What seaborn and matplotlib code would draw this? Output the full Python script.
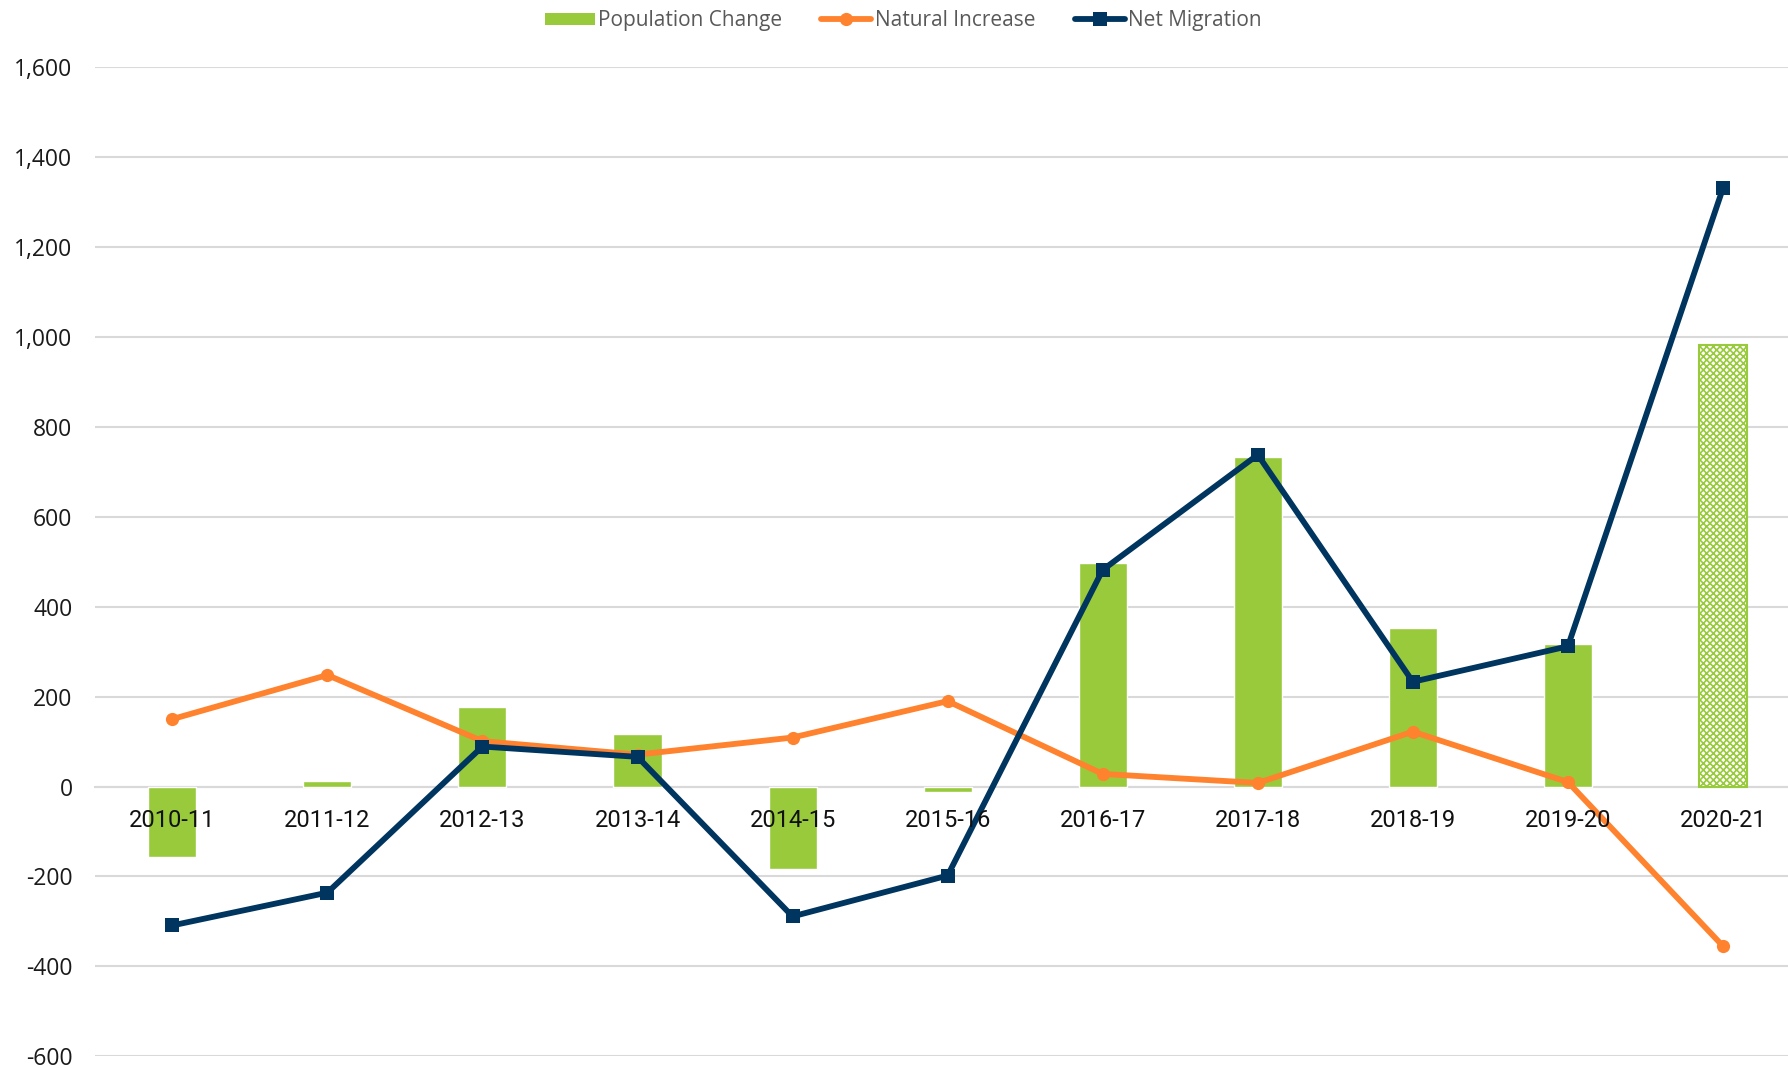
import matplotlib
matplotlib.use("Agg")
import matplotlib.pyplot as plt
import seaborn as sns
import numpy as np
import pandas as pd
from matplotlib.lines import Line2D
from matplotlib.patches import Patch

years = ["2010-11", "2011-12", "2012-13", "2013-14", "2014-15", "2015-16",
         "2016-17", "2017-18", "2018-19", "2019-20", "2020-21"]
population_change = [-157, 12, 177, 117, -183, -12, 497, 733, 352, 317, 983]
natural_increase = [150, 248, 101, 71, 109, 190, 28, 8, 122, 10, -355]
net_migration = [-309, -236, 89, 66, -289, -198, 482, 738, 233, 312, 1331]
y_ticks = [-600, -400, -200, 0, 200, 400, 600, 800, 1000, 1200, 1400, 1600]

GREEN = "#99CA3C"
ORANGE = "#FF822E"
NAVY = "#00355F"

sns.set_style("white")
plt.rcParams["hatch.linewidth"] = 1.2

fig = plt.figure(figsize=(17.88, 10.68), dpi=100)
ax = fig.add_axes([0.053, 0.011, 0.954, 0.926])

df = pd.DataFrame({"year": years, "pop": population_change,
                   "ni": natural_increase, "nm": net_migration,
                   "idx": np.arange(len(years))})

sns.barplot(data=df, x="year", y="pop", color=GREEN, width=0.31,
            saturation=1, ax=ax, zorder=2)
last = ax.patches[-1]
last.set_facecolor("white")
last.set_edgecolor(GREEN)
last.set_hatch("xxxxx")
last.set_linewidth(1.5)

sns.lineplot(data=df, x="idx", y="ni", color=ORANGE, linewidth=4.2,
             marker="o", markersize=9.5, markeredgewidth=0, ax=ax, zorder=3)
sns.lineplot(data=df, x="idx", y="nm", color=NAVY, linewidth=4.2,
             marker="s", markersize=10.5, markeredgewidth=0, ax=ax, zorder=4)

ax.set_xlim(-0.5, len(years) - 0.5)
ax.set_ylim(-600, 1600)
ax.yaxis.grid(True, color="#D9D9D9", linewidth=1.5, zorder=0)
ax.set_axisbelow(True)
ax.set_xlabel("")
ax.set_ylabel("")

ax.spines["bottom"].set_position(("data", 0))
ax.spines["bottom"].set_color("#D9D9D9")
ax.spines["bottom"].set_linewidth(1.5)
ax.spines["bottom"].set_zorder(1.8)
for s in ["left", "right", "top"]:
    ax.spines[s].set_visible(False)

ax.set_xticks(range(len(years)))
ax.set_xticklabels(years, fontsize=17, family="Roboto", color="#111111")
ax.set_yticks(y_ticks)
ax.set_yticklabels([f"{v:,}" for v in y_ticks], fontsize=16.5,
                   color="#1a1a1a", family="Open Sans")
ax.tick_params(axis="x", length=0, pad=16)
ax.tick_params(axis="y", length=0, pad=16)
ax.xaxis.set_zorder(5)

handles = [
    Patch(facecolor=GREEN, edgecolor="none"),
    Line2D([0], [0], color=ORANGE, linewidth=4.2, marker="o", markersize=9.5,
           markeredgewidth=0),
    Line2D([0], [0], color=NAVY, linewidth=4.2, marker="s", markersize=10.5,
           markeredgewidth=0),
]
labels = ["Population Change", "Natural Increase", "Net Migration"]
fig.legend(handles, labels, loc="upper center", bbox_to_anchor=(0.505, 1.008),
           ncol=3, frameon=False, prop={"family": "Open Sans", "size": 15},
           labelcolor="#595959", handlelength=2.4, handletextpad=0.15,
           columnspacing=1.9, handleheight=0.55)

fig.savefig("out.png", dpi=100)
